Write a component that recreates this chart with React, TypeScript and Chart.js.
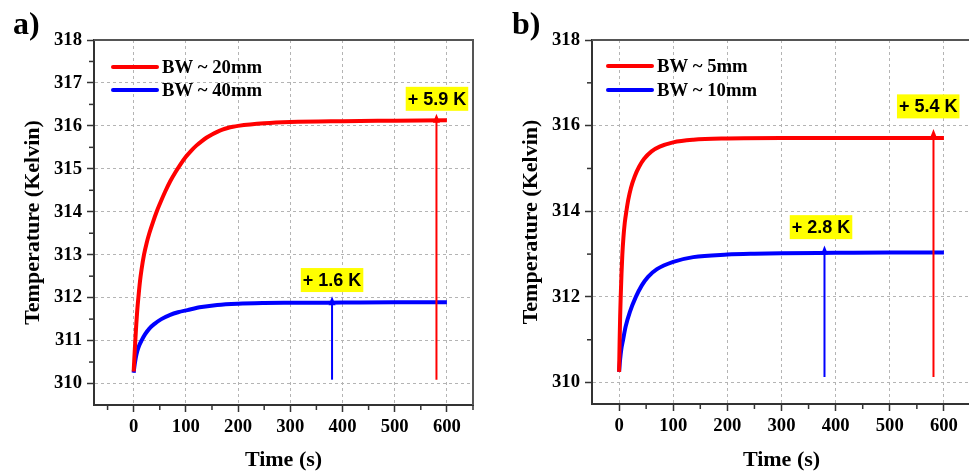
import React, { useEffect, useRef } from 'react';
import { Chart, registerables } from 'chart.js';
Chart.register(...registerables);

// ---------- Panel a data ----------
const timeRedA = [0, 1, 2, 3, 4, 5, 6, 7, 8, 9, 12, 15, 19.8, 25, 30, 37, 44, 50, 60, 70, 80, 90, 100, 110, 120, 130, 140, 150, 160, 170, 180, 190, 200, 250, 300, 400, 500, 600];
const tempRedA = [310.28, 310.52, 310.75, 310.97, 311.18, 311.38, 311.56, 311.73, 311.87, 312.0, 312.37, 312.65, 313.0, 313.28, 313.5, 313.76, 314.0, 314.18, 314.46, 314.71, 314.92, 315.11, 315.28, 315.42, 315.54, 315.64, 315.73, 315.8, 315.86, 315.91, 315.95, 315.98, 316.0, 316.06, 316.09, 316.11, 316.12, 316.13];
const timeBlueA = [0, 1, 2, 4, 7, 10, 15, 22, 30, 40, 53, 70, 85, 103, 130, 160, 200, 250, 300, 400, 500, 600];
const tempBlueA = [310.25, 310.36, 310.45, 310.6, 310.76, 310.87, 311.0, 311.15, 311.28, 311.39, 311.5, 311.6, 311.66, 311.71, 311.78, 311.83, 311.86, 311.875, 311.88, 311.885, 311.89, 311.89];
const seriesLabelsA = ['BW ~ 20mm', 'BW ~ 40mm'];

// ---------- Panel b data ----------
const timeRedB = [0, 1, 2, 3, 4.5, 6, 8, 10.5, 13.5, 17, 22, 29, 37, 46, 60, 75, 100, 137, 200, 300, 400, 600];
const tempRedB = [310.25, 310.95, 311.55, 312.0, 312.55, 312.98, 313.38, 313.73, 314.0, 314.27, 314.55, 314.82, 315.04, 315.22, 315.4, 315.51, 315.61, 315.67, 315.7, 315.71, 315.71, 315.71];
const timeBlueB = [0, 2, 4, 7.4, 12, 20, 31, 42, 53.5, 70, 100, 137, 200, 250, 300, 400, 500, 600];
const tempBlueB = [310.25, 310.55, 310.77, 311.0, 311.3, 311.65, 312.0, 312.27, 312.47, 312.65, 312.82, 312.93, 312.99, 313.01, 313.02, 313.03, 313.04, 313.04];
const seriesLabelsB = ['BW ~ 5mm', 'BW ~ 10mm'];

// ---------- Ticks ----------
const xTickLabels = [0, 100, 200, 300, 400, 500, 600];
const xMinorTicksA = [-50, 50, 150, 250, 350, 450, 550, 650];
const xMinorTicksB = [50, 150, 250, 350, 450, 550, 650];
const yTickLabelsA = [310, 311, 312, 313, 314, 315, 316, 317, 318];
const yMinorTicksA = [310.5, 311.5, 312.5, 313.5, 314.5, 315.5, 316.5, 317.5];
const yTickLabelsB = [310, 312, 314, 316, 318];
const yMinorTicksB = [311, 313, 315, 317];

// ---------- Annotations (arrows + delta labels) ----------
const arrowTimeA = [380, 580];
const arrowFromA = [310.09, 310.09];
const arrowToA = [312.03, 316.28];
const deltaTextA = ['+ 1.6 K', '+ 5.9 K'];
const deltaXA = [380, 581];
const deltaYA = [312.41, 316.63];

const arrowTimeB = [379.4, 580.7];
const arrowFromB = [310.13, 310.13];
const arrowToB = [313.2, 315.92];
const deltaTextB = ['+ 2.8 K', '+ 5.4 K'];
const deltaXB = [373, 571];
const deltaYB = [313.63, 316.45];

const RED = '#FF0000';
const BLUE = '#0000FF';
const SERIF = "'Liberation Serif', 'Times New Roman', serif";
const SANS = "'Liberation Sans', Arial, sans-serif";

type PanelCfg = {
  id: string;
  letter: string;
  letterX: number;
  width: number;
  yAxisWidth: number;
  padRight: number;
  xAxisHeight: number;
  yTitlePad: number;
  xMin: number;
  xMax: number;
  yStep: number;
  series: { t: number[]; v: number[]; label: string; color: string }[];
  xMinor: number[];
  yLabels: number[];
  yMinor: number[];
  arrows: { t: number; from: number; to: number; color: string }[];
  deltas: { text: string; x: number; y: number }[];
  legend: { x0: number; x1: number; tx: number; ys: number[] };
};

const near = (a: number, list: number[]) => list.some((b) => Math.abs(a - b) < 1e-6);

function makeOverlay(p: PanelCfg) {
  return {
    id: 'overlay' + p.id,
    afterDraw(chart: any) {
      const { ctx, chartArea: ca, scales } = chart;
      const x = scales.x;
      const y = scales.y;
      ctx.save();
      // frame top & right
      ctx.strokeStyle = '#555';
      ctx.lineWidth = 2;
      ctx.beginPath();
      ctx.moveTo(ca.left, ca.top);
      ctx.lineTo(ca.right, ca.top);
      ctx.lineTo(ca.right, ca.bottom);
      ctx.stroke();
      // minor ticks
      ctx.strokeStyle = '#333';
      ctx.lineWidth = 1.5;
      for (const v of p.xMinor) {
        const px = x.getPixelForValue(v);
        ctx.beginPath();
        ctx.moveTo(px, ca.bottom);
        ctx.lineTo(px, ca.bottom + 5);
        ctx.stroke();
      }
      for (const v of p.yMinor) {
        const py = y.getPixelForValue(v);
        ctx.beginPath();
        ctx.moveTo(ca.left, py);
        ctx.lineTo(ca.left - 5, py);
        ctx.stroke();
      }
      // arrows
      for (const a of p.arrows) {
        const ax = x.getPixelForValue(a.t);
        const y0 = y.getPixelForValue(a.from);
        const y1 = y.getPixelForValue(a.to);
        ctx.strokeStyle = a.color;
        ctx.fillStyle = a.color;
        ctx.lineWidth = 2;
        ctx.beginPath();
        ctx.moveTo(ax, y0);
        ctx.lineTo(ax, y1 + 6);
        ctx.stroke();
        ctx.beginPath();
        ctx.moveTo(ax, y1);
        ctx.lineTo(ax - 3.5, y1 + 9);
        ctx.lineTo(ax + 3.5, y1 + 9);
        ctx.closePath();
        ctx.fill();
      }
      // delta labels
      ctx.font = `bold 18px ${SANS}`;
      ctx.textAlign = 'center';
      ctx.textBaseline = 'middle';
      for (const d of p.deltas) {
        const cx = x.getPixelForValue(d.x);
        const cy = y.getPixelForValue(d.y);
        const w = ctx.measureText(d.text).width + 4;
        ctx.fillStyle = '#FFFF00';
        ctx.fillRect(cx - w / 2, cy - 12, w, 24);
        ctx.fillStyle = '#000';
        ctx.fillText(d.text, cx, cy + 1);
      }
      // legend
      ctx.textAlign = 'left';
      ctx.font = `bold 18.7px ${SERIF}`;
      p.series.forEach((s, i) => {
        const ly = ca.top + p.legend.ys[i];
        ctx.strokeStyle = s.color;
        ctx.lineWidth = 4;
        ctx.lineCap = 'round';
        ctx.beginPath();
        ctx.moveTo(ca.left + p.legend.x0, ly);
        ctx.lineTo(ca.left + p.legend.x1, ly);
        ctx.stroke();
        ctx.fillStyle = '#000';
        ctx.fillText(s.label, ca.left + p.legend.tx, ly + 1);
      });
      // panel letter
      ctx.font = `bold 32px ${SERIF}`;
      ctx.textBaseline = 'alphabetic';
      ctx.fillStyle = '#000';
      ctx.fillText(p.letter, p.letterX, 34);
      ctx.restore();
    },
  };
}

function Panel({ p, left }: { p: PanelCfg; left: number }) {
  const ref = useRef<HTMLCanvasElement | null>(null);
  useEffect(() => {
    if (!ref.current) return;
    const tickFont = { family: SERIF, weight: 'bold' as const, size: 18.7 };
    const titleFont = { family: SERIF, weight: 'bold' as const, size: 22, lineHeight: 1.1 };
    const chart = new Chart(ref.current, {
      type: 'line',
      data: {
        datasets: p.series.map((s) => ({
          label: s.label,
          data: s.t.map((t, i) => ({ x: t, y: s.v[i] })),
          borderColor: s.color,
          backgroundColor: s.color,
          borderWidth: 4,
          pointRadius: 0,
          cubicInterpolationMode: 'monotone' as const,
          fill: false,
        })),
      },
      options: {
        animation: false,
        responsive: false,
        devicePixelRatio: 1,
        layout: { padding: { left: 0, top: 40, right: p.padRight, bottom: 0 } },
        plugins: { legend: { display: false }, tooltip: { enabled: false } },
        scales: {
          x: {
            type: 'linear',
            min: p.xMin,
            max: p.xMax,
            afterFit: (s: any) => {
              s.height = p.xAxisHeight;
            },
            ticks: {
              stepSize: 50,
              includeBounds: false,
              autoSkip: false,
              maxRotation: 0,
              color: '#000',
              font: tickFont,
              padding: 4,
              callback: (v: any) => (near(Number(v), xTickLabels) ? String(Math.round(Number(v))) : ''),
            },
            grid: {
              color: (c: any) => (c.tick && near(c.tick.value, xTickLabels) ? '#b4b4b4' : 'transparent'),
              lineWidth: 1,
              tickLength: 7,
              tickWidth: 1.5,
              tickColor: (c: any) => (c.tick && near(c.tick.value, xTickLabels) ? '#333' : 'transparent'),
            },
            border: { display: true, color: '#333', width: 2, dash: [3, 3] },
            title: { display: true, text: 'Time (s)', color: '#000', font: titleFont, padding: { top: 0, bottom: 0 } },
          },
          y: {
            type: 'linear',
            min: 309.5,
            max: 318,
            afterFit: (s: any) => {
              s.width = p.yAxisWidth;
            },
            ticks: {
              stepSize: p.yStep,
              autoSkip: false,
              color: '#000',
              font: tickFont,
              padding: 5,
              callback: (v: any) => (near(Number(v), p.yLabels) ? String(Math.round(Number(v))) : ''),
            },
            grid: {
              color: (c: any) =>
                c.tick && near(c.tick.value, p.yLabels) && c.tick.value < 317.9 ? '#b4b4b4' : 'transparent',
              lineWidth: 1,
              tickLength: 7,
              tickWidth: 1.5,
              tickColor: (c: any) => (c.tick && near(c.tick.value, p.yLabels) ? '#333' : 'transparent'),
            },
            border: { display: true, color: '#333', width: 2, dash: [3, 3] },
            title: {
              display: true,
              text: 'Temperature (Kelvin)',
              color: '#000',
              font: titleFont,
              padding: { top: p.yTitlePad, bottom: 0 },
            },
          },
        },
      },
      plugins: [makeOverlay(p)],
    } as any);
    return () => chart.destroy();
  }, [p]);
  return (
    <canvas
      ref={ref}
      width={p.width}
      height={472}
      style={{ position: 'absolute', left, top: 0, width: p.width, height: 472 }}
    />
  );
}

const panelA: PanelCfg = {
  id: 'a',
  letter: 'a)',
  letterX: 13,
  width: 484,
  yAxisWidth: 94,
  padRight: 11,
  xAxisHeight: 67,
  yTitlePad: 21,
  xMin: -76,
  xMax: 650,
  yStep: 0.5,
  series: [
    { t: timeRedA, v: tempRedA, label: seriesLabelsA[0], color: RED },
    { t: timeBlueA, v: tempBlueA, label: seriesLabelsA[1], color: BLUE },
  ],
  xMinor: xMinorTicksA,
  yLabels: yTickLabelsA,
  yMinor: yMinorTicksA,
  arrows: [
    { t: arrowTimeA[0], from: arrowFromA[0], to: arrowToA[0], color: BLUE },
    { t: arrowTimeA[1], from: arrowFromA[1], to: arrowToA[1], color: RED },
  ],
  deltas: deltaTextA.map((text, i) => ({ text, x: deltaXA[i], y: deltaYA[i] })),
  legend: { x0: 19, x1: 63, tx: 68, ys: [27, 50] },
};

const panelB: PanelCfg = {
  id: 'b',
  letter: 'b)',
  letterX: 27,
  width: 490,
  yAxisWidth: 107,
  padRight: 3,
  xAxisHeight: 68,
  yTitlePad: 34,
  xMin: -50,
  xMax: 650,
  yStep: 1,
  series: [
    { t: timeRedB, v: tempRedB, label: seriesLabelsB[0], color: RED },
    { t: timeBlueB, v: tempBlueB, label: seriesLabelsB[1], color: BLUE },
  ],
  xMinor: xMinorTicksB,
  yLabels: yTickLabelsB,
  yMinor: yMinorTicksB,
  arrows: [
    { t: arrowTimeB[0], from: arrowFromB[0], to: arrowToB[0], color: BLUE },
    { t: arrowTimeB[1], from: arrowFromB[1], to: arrowToB[1], color: RED },
  ],
  deltas: deltaTextB.map((text, i) => ({ text, x: deltaXB[i], y: deltaYB[i] })),
  legend: { x0: 16, x1: 60, tx: 65, ys: [26, 50] },
};

export default function App() {
  return (
    <div
      style={{
        position: 'fixed',
        left: 0,
        top: 0,
        width: 969,
        height: 472,
        overflow: 'hidden',
        background: '#fff',
      }}
    >
      <Panel p={panelA} left={0} />
      <Panel p={panelB} left={485} />
    </div>
  );
}
